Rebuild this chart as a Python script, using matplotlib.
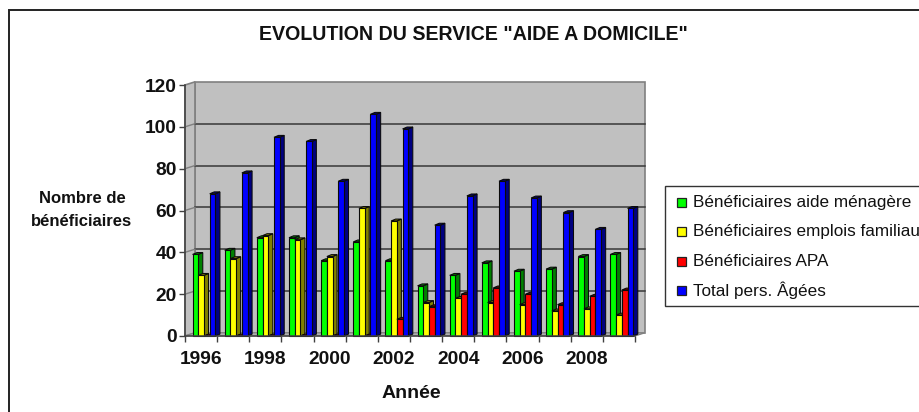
import matplotlib
matplotlib.use("Agg")
import matplotlib.pyplot as plt
from matplotlib.patches import Rectangle, Polygon

plt.rcParams["font.family"] = ["Liberation Sans", "DejaVu Sans"]

years = list(range(1996, 2010))
aide_menagere = [39, 41, 47, 47, 36, 45, 36, 24, 29, 35, 31, 32, 38, 39]
emplois_familiaux = [29, 37, 48, 46, 38, 61, 55, 16, 18, 16, 15, 12, 13, 10]
apa = [0, 0, 0, 0, 0, 0, 8, 14, 20, 23, 20, 15, 19, 22]
total_agees = [68, 78, 95, 93, 74, 106, 99, 53, 67, 74, 66, 59, 51, 61]

series = [
    ("Bénéficiaires aide ménagère", aide_menagere, "#00FF00", "#008000"),
    ("Bénéficiaires emplois familiaux", emplois_familiaux, "#FFFF00", "#808000"),
    ("Bénéficiaires APA", apa, "#FF0000", "#800000"),
    ("Total pers. Âgées", total_agees, "#0000FF", "#000080"),
]

W, H = 920, 412
BAR_W = 0.178
GROUP_START = 0.235
# 3d look: offsets of the back wall and of the bars, in data units
WALL_DX, WALL_DY = 0.31, 1.5
BAR_DX, BAR_DY = 0.14, 0.9
EDGE = "#0A0A0A"
WALL = "#C0C0C0"


def px_box(x0, y0, x1, y1):
    return [x0 / W, 1 - y1 / H, (x1 - x0) / W, (y1 - y0) / H]


fig = plt.figure(figsize=(W / 100, H / 100), dpi=100)
ax = fig.add_axes(px_box(185, 85, 635, 336))
n = len(years)
ax.set_xlim(0, n)
ax.set_ylim(0, 120)
ax.patch.set_visible(False)

# outer frame runs past the right and bottom edges
fig.add_artist(Rectangle((9.5 / W, -0.1), 1.1, 1.1 - 10 / H,
                         transform=fig.transFigure, fill=False,
                         edgecolor="#222222", linewidth=1.4))

# back wall, side wall, floor
ax.add_patch(Rectangle((WALL_DX, WALL_DY), n, 120, facecolor=WALL,
                       edgecolor="#808080", linewidth=1.2, clip_on=False, zorder=0))
ax.add_patch(Polygon([(0, 0), (WALL_DX, WALL_DY), (WALL_DX, 120 + WALL_DY), (0, 120)],
                     facecolor=WALL, edgecolor="#808080", linewidth=1.2,
                     clip_on=False, zorder=0))
ax.add_patch(Polygon([(0, 0), (WALL_DX, WALL_DY), (n + WALL_DX, WALL_DY), (n, 0)],
                     facecolor="#B0B0B0", edgecolor="#808080", linewidth=0.8,
                     clip_on=False, zorder=0))

for v in range(20, 120, 20):
    ax.plot([WALL_DX, n + WALL_DX], [v + WALL_DY] * 2, color="#383838", linewidth=1.1,
            clip_on=False, zorder=1)
    ax.plot([0, WALL_DX], [v, v + WALL_DY], color="#808080", linewidth=1.0,
            clip_on=False, zorder=1)

# bars, left to right so that later ones hide the sides of earlier ones
z = 2
for i in range(n):
    for j, (label, values, face, side) in enumerate(series):
        v = values[i]
        x0 = i + GROUP_START + j * BAR_W
        x1 = x0 + BAR_W
        ax.add_patch(Polygon([(x1, 0), (x1 + BAR_DX, BAR_DY), (x1 + BAR_DX, v + BAR_DY), (x1, v)],
                             facecolor=side, edgecolor=EDGE, linewidth=0.75,
                             clip_on=False, zorder=z))
        ax.add_patch(Polygon([(x0, v), (x0 + BAR_DX, v + BAR_DY), (x1 + BAR_DX, v + BAR_DY), (x1, v)],
                             facecolor=side, edgecolor=EDGE, linewidth=0.75,
                             clip_on=False, zorder=z))
        ax.bar(x0, v, width=BAR_W, align="edge", color=face, edgecolor=EDGE,
               linewidth=0.8, clip_on=False, zorder=z + 0.5)
        z += 1

for name in ["top", "right"]:
    ax.spines[name].set_visible(False)
for name in ["left", "bottom"]:
    ax.spines[name].set_color("#404040")
    ax.spines[name].set_linewidth(1.1)
    ax.spines[name].set_zorder(z + 1)

ax.set_yticks(range(0, 121, 20))
ax.set_xticks(range(0, n + 1))
ax.set_xticklabels([])
ax.set_xticks([i + 0.5 for i in range(0, n, 2)], minor=True)
ax.set_xticklabels([str(years[i]) for i in range(0, n, 2)], minor=True)
ax.tick_params(axis="x", which="minor", length=0, pad=10.5, labelsize=13.8)
ax.tick_params(axis="x", which="major", length=4, width=1.0, color="#404040")
ax.tick_params(axis="y", length=4, width=1.0, color="#404040", labelsize=13.8, pad=2)
for t in ax.get_xticklabels(minor=True) + ax.get_yticklabels():
    t.set_fontweight("bold")
    t.set_color("#111111")

fig.text(473 / W, 1 - 35 / H, 'EVOLUTION DU SERVICE "AIDE A DOMICILE"', ha="center",
         va="center", fontsize=14.1, fontweight="bold", color="#111111")
fig.text(82 / W, 1 - 210 / H, "Nombre de\nbénéficiaires", ha="center", va="center",
         fontsize=12, fontweight="bold", color="#111111", linespacing=1.6)
fig.text(411 / W, 1 - 393 / H, "Année", ha="center", va="center",
         fontsize=14, fontweight="bold", color="#111111")

# legend box goes past the right edge of the picture, as in the original
fig.add_artist(Rectangle((665 / W, 1 - 306 / H), 300 / W, 120 / H, transform=fig.transFigure,
                         facecolor="white", edgecolor="#333333", linewidth=1.0))
for k, (label, values, face, side) in enumerate(series):
    y = 202.5 + k * 29.3
    fig.add_artist(Rectangle((677 / W, 1 - (y + 4.5) / H), 9 / W, 9 / H, transform=fig.transFigure,
                             facecolor=face, edgecolor="#222222", linewidth=0.9))
    fig.text(693.5 / W, 1 - y / H, label, ha="left", va="center", fontsize=12.3, color="#111111")

fig.savefig("out.png", dpi=100)
